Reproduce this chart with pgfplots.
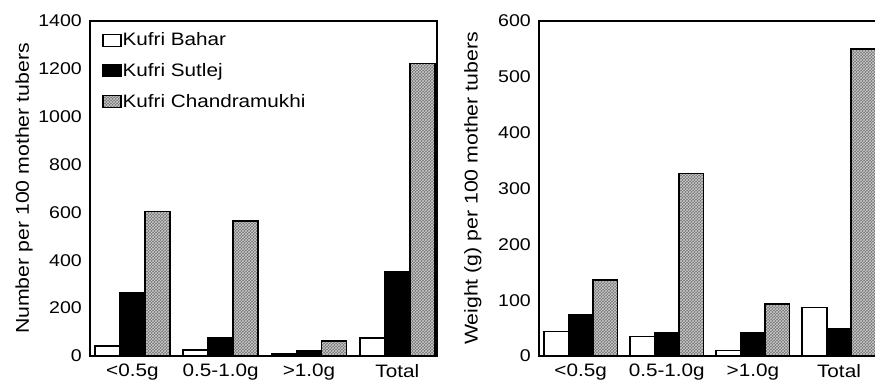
\documentclass[border=0pt]{standalone}
\usepackage{pgfplots}
\pgfplotsset{compat=1.18}
\usepackage{fontspec}
\setmainfont{Liberation Sans}[FakeStretch=1.15]
\usetikzlibrary{patterns}

\pgfplotsset{
  tuberaxis/.style={
    scale only axis,
    height=335pt,
    ybar=0pt,
    bar width=25pt,
    axis line style={line width=1.8pt},
    major tick length=0pt,
    xtick={0,1,2,3},
    xticklabels={{<0.5g},{0.5-1.0g},{>1.0g},{Total}},
    xticklabel style={inner sep=0pt, anchor=north, yshift=-8pt, font=\fontsize{18}{21}\selectfont},
    yticklabel style={inner sep=0pt, anchor=east, xshift=-8pt, font=\fontsize{17}{20}\selectfont},
    /pgf/number format/assume math mode=true,
    /pgf/number format/1000 sep={},
    ymin=0,
    clip=false,
    every axis y label/.style={rotate=90, anchor=center, font=\fontsize{18.5}{21}\selectfont},
    legend image code/.code={\draw[#1, line width=1.2pt] (0pt,-6pt) rectangle (18pt,6pt);},
  },
  bahar/.style={draw=black, line width=1.7pt, fill=white},
  sutlej/.style={draw=black, line width=1.7pt, fill=black},
  chandra/.style={draw=black, line width=1.7pt, fill=black!55,
    postaction={pattern=crosshatch, pattern color=white!80!black}},
}

\begin{document}
\begin{tikzpicture}[x=1pt,y=1pt]
\useasboundingbox (0,0) rectangle (875,381);

% Number of tubers per 100 mother tubers
\begin{axis}[tuberaxis,
  at={(90pt,25pt)}, anchor=south west,
  width=347pt,
  xmin=-0.48, xmax=3.45,
  ymax=1400, ytick={0,200,...,1400},
  ylabel={Number per 100 mother tubers},
  every axis y label/.append style={at={(axis description cs:-0.19,0.5)}},
  legend style={at={(axis description cs:0.035,0.968)}, anchor=north west,
    draw=none, fill=none, font=\fontsize{18}{21}\selectfont,
    row sep=14pt, inner sep=0pt,
    nodes={inner sep=1pt, anchor=west}},
  legend cell align=left,
]
\addplot[bahar] coordinates {(0,43) (1,25) (2,8) (3,74)};
\addplot[sutlej] coordinates {(0,265) (1,74) (2,21) (3,351)};
\addplot[chandra] coordinates {(0,604) (1,565) (2,64) (3,1223)};
\legend{Kufri Bahar, Kufri Sutlej, Kufri Chandramukhi}
\end{axis}

% Weight of tubers per 100 mother tubers
\begin{axis}[tuberaxis,
  at={(539pt,25pt)}, anchor=south west,
  width=337pt,
  bar width=24.5pt,
  xmin=-0.483, xmax=3.43,
  ymax=600, ytick={0,100,...,600},
  ylabel={Weight (g) per 100 mother tubers},
  every axis y label/.append style={at={(axis description cs:-0.196,0.5)}},
]
\addplot[bahar] coordinates {(0,44) (1,35) (2,10) (3,87)};
\addplot[sutlej] coordinates {(0,73) (1,41) (2,41) (3,48)};
\addplot[chandra] coordinates {(0,136) (1,327) (2,93) (3,550)};
\end{axis}
\end{tikzpicture}
\end{document}
